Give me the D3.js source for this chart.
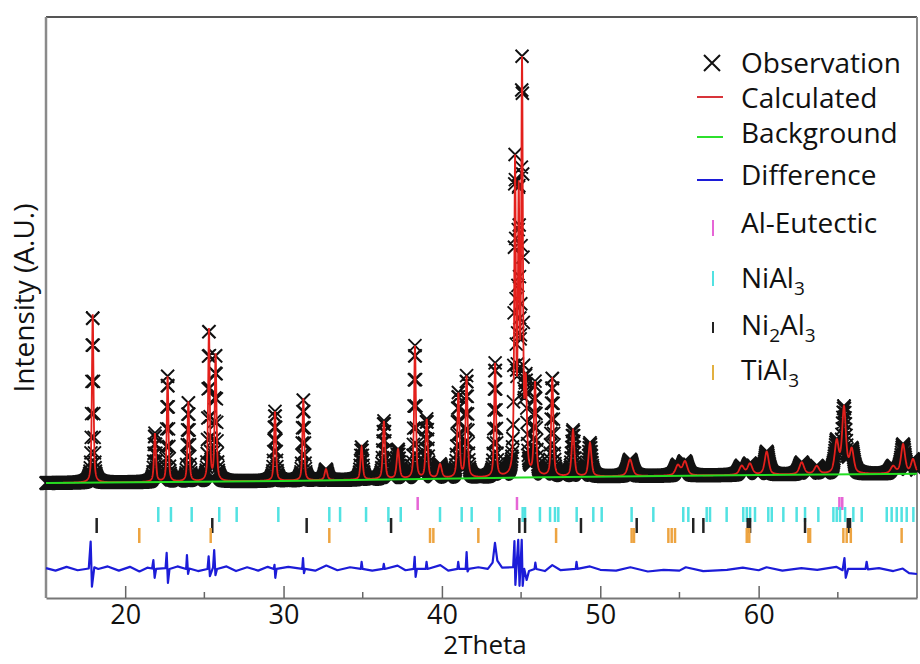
<!DOCTYPE html>
<html>
<head>
<meta charset="utf-8">
<script src="https://cdn.jsdelivr.net/npm/d3@7"></script>
<style>
body { margin: 0; background: #fff; }
text { font-family: "Open Sans", sans-serif; fill: #111; }
</style>
</head>
<body>
<script>
var w = 920;
var h = 664;

// reflections (2theta, height in counts, fwhm in degrees)
var peakPos = [17.95, 21.88, 22.68, 23.99, 25.29, 25.71, 29.46, 31.25, 32.68, 34.93,
    36.34, 37.23, 38.30, 39.04, 39.88, 41.04, 41.56, 43.36, 44.62, 44.85,
    45.06, 45.30, 45.88, 46.97, 48.28, 49.35, 51.88, 54.90, 55.35, 58.93,
    59.45, 60.51, 62.72, 63.67, 64.93, 65.39, 65.88, 68.49, 69.12, 69.75];
var peakHeight = [4000, 1150, 2500, 1900, 3600, 3000, 1650, 1950, 260, 780,
    1380, 700, 3150, 1400, 330, 2000, 2400, 2700, 7300, 6300,
    9500, 2000, 2200, 2350, 1100, 800, 400, 240, 330, 210,
    260, 550, 285, 190, 750, 1550, 550, 170, 690, 330];
var peakFwhm = [0.12, 0.14, 0.12, 0.13, 0.12, 0.13, 0.14, 0.13, 0.2, 0.16,
    0.16, 0.2, 0.13, 0.16, 0.25, 0.16, 0.15, 0.14, 0.12, 0.12,
    0.12, 0.16, 0.16, 0.16, 0.2, 0.22, 0.35, 0.35, 0.35, 0.35,
    0.35, 0.3, 0.35, 0.35, 0.3, 0.28, 0.3, 0.35, 0.3, 0.3];

// background knots
var bgPos = [15, 30, 45, 60, 70];
var bgVal = [430, 480, 560, 620, 650];

// difference curve (obs - calc), drawn shifted down by diffOffset
var diffOffset = -1610;
var diffPts = [[15.0, 20], [15.6, -40], [16.3, 50], [17.0, -30], [17.70, 10], [17.82, 650], [17.90, -420], [18.05, 40], [18.3, 0],
    [18.9, 60], [19.6, -40], [20.3, 50], [20.9, -60], [21.4, 30],
    [21.70, 10], [21.78, 210], [21.86, -210], [21.95, 0],
    [22.55, 20], [22.62, 380], [22.70, -330], [22.80, 0],
    [23.3, 60], [23.85, 0], [23.90, 330], [23.97, -120], [24.05, 10], [24.6, -50],
    [25.20, 0], [25.27, 300], [25.35, -170], [25.55, 40], [25.62, 450], [25.70, -150], [25.80, 0],
    [26.4, 60], [27.0, -50], [27.7, 40], [28.4, -40], [29.0, 50],
    [29.38, 0], [29.43, 100], [29.48, -210], [29.56, 0], [30.3, 50],
    [31.18, 0], [31.23, 260], [31.29, -100], [31.36, 0],
    [32.0, -40], [32.7, 80], [33.4, -30], [34.2, 40],
    [34.88, 0], [34.93, 170], [34.99, 0], [35.6, -40],
    [36.28, 0], [36.33, 120], [36.39, 0], [37.2, 80], [37.7, -30],
    [38.22, 0], [38.28, 290], [38.34, -190], [38.42, 0],
    [38.98, 0], [39.03, 170], [39.09, 0], [39.9, 90], [40.4, -40],
    [40.98, 0], [41.03, 170], [41.09, 0],
    [41.50, 0], [41.56, 400], [41.62, -60], [41.70, 0], [42.3, 40],
    [42.90, 0], [43.20, 150], [43.35, 620], [43.50, 200], [43.80, 30],
    [44.50, 40], [44.58, 660], [44.64, -380], [44.72, 100], [44.82, 690], [44.90, -400],
    [44.98, 200], [45.04, 690], [45.10, -400], [45.20, 0], [45.35, -260], [45.50, -50],
    [45.85, 0], [45.90, 150], [45.96, 0], [46.5, -50], [46.97, 90], [47.5, -30],
    [48.45, 0], [48.50, 170], [48.56, 0], [49.35, 60], [50.0, -20], [51.0, -40],
    [51.9, 40], [53.0, -60], [54.0, -20], [55.0, -40], [55.4, 40], [56.5, -50],
    [58.0, -20], [59.0, 30], [60.0, -30], [60.5, 40], [61.5, -40], [62.7, 20], [63.7, -20], [64.9, 50],
    [65.30, -30], [65.42, 260], [65.50, -210], [65.65, 0],
    [66.75, 0], [66.82, 170], [66.90, -10],
    [67.6, 20], [68.5, -50], [69.1, 10], [69.5, -100], [70.0, -120]];

// phase reflection positions
var alEutectic = [38.47, 44.74, 65.10, 65.28];
var niAl3 = [22.09, 22.89, 24.20, 25.94, 27.04, 29.67, 32.89, 33.57, 35.21, 36.62,
    37.40, 39.88, 41.25, 41.88, 43.63, 45.10, 45.25, 46.19, 46.83, 47.14,
    47.35, 48.51, 49.56, 50.09, 51.98, 53.35, 55.24, 55.56, 56.72, 56.93,
    57.98, 59.03, 59.25, 59.46, 59.77, 60.61, 60.83, 61.56, 62.40, 62.93,
    63.77, 64.72, 64.93, 65.14, 65.46, 65.98, 66.51, 68.09, 68.40, 68.72,
    69.03, 69.35, 69.77];
var ni2Al3 = [18.20, 25.50, 31.46, 36.79, 44.89, 45.25, 48.78, 52.30, 55.87, 56.51,
    59.31, 59.46, 62.93, 65.63, 65.77];
var tiAl3 = [20.89, 25.40, 32.89, 39.25, 39.46, 42.30, 47.21, 51.98, 52.13, 54.30,
    54.51, 54.72, 59.25, 59.41, 63.14, 63.25, 65.35, 65.56, 65.82, 69.03];

var xMajor = [20, 30, 40, 50, 60];
var xMinor = [25, 35, 45, 55, 65];

var x = d3.scaleLinear().domain([15, 70]).range([46, 917]);
var y = d3.scaleLinear().domain([-2300, 11500]).range([598, 17]);
var bgAt = d3.scaleLinear().domain(bgPos).range(bgVal);

function calcAt(t) {
    var s = bgAt(t);
    for (var i = 0; i < peakPos.length; i++) {
        var u = (t - peakPos[i]) / peakFwhm[i];
        var L = 1 / (1 + 4 * u * u);
        var G = Math.exp(-4 * Math.LN2 * u * u);
        s += peakHeight[i] * (0.6 * L + 0.4 * G);
    }
    return s;
}

var calc = d3.range(15, 70.0001, 0.01).map(function(t) { return [t, calcAt(t)]; });
var obs = d3.range(15, 70.0001, 0.02).map(function(t) { return [t, calcAt(t)]; });

var svg = d3.select("body").append("svg")
    .attr("width", w)
    .attr("height", h);

// frame
var frame = svg.append("g").attr("fill", "none");
frame.append("line").attr("x1", 46).attr("x2", 917).attr("y1", 17).attr("y2", 17)
    .attr("stroke", "#555").attr("stroke-width", 2);
frame.append("line").attr("x1", 46).attr("x2", 46).attr("y1", 17).attr("y2", 598)
    .attr("stroke", "#8a8a8a").attr("stroke-width", 2.5);
frame.append("line").attr("x1", 917).attr("x2", 917).attr("y1", 17).attr("y2", 598)
    .attr("stroke", "#8a8a8a").attr("stroke-width", 2);

// observation crosses
var xs = 6.5;
var obsD = obs.map(function(d) {
    var px = x(d[0]), py = y(d[1]);
    return "M" + (px - xs) + "," + (py - xs) + "l" + 2 * xs + "," + 2 * xs +
        "m0," + (-2 * xs) + "l" + (-2 * xs) + "," + 2 * xs;
}).join("");
svg.append("path").attr("d", obsD)
    .attr("fill", "none").attr("stroke", "#111").attr("stroke-width", 1.9);

var line = d3.line().x(function(d) { return x(d[0]); }).y(function(d) { return y(d[1]); });

svg.append("path").datum(calc).attr("d", line)
    .attr("fill", "none").attr("stroke", "#e3201c").attr("stroke-width", 1.8);

svg.append("path").datum(bgPos.map(function(p, i) { return [p, bgVal[i]]; })).attr("d", line)
    .attr("fill", "none").attr("stroke", "#22dd22").attr("stroke-width", 2);

svg.append("path").datum(diffPts.map(function(d) { return [d[0], d[1] + diffOffset]; })).attr("d", line)
    .attr("fill", "none").attr("stroke", "#1c1cd8").attr("stroke-width", 2.2)
    .attr("stroke-linejoin", "round");

// reflection tick rows
var phases = [
    {pos: alEutectic, color: "#e665d6", y0: 497, y1: 510},
    {pos: niAl3, color: "#52e2e2", y0: 507, y1: 522},
    {pos: ni2Al3, color: "#222", y0: 518, y1: 533},
    {pos: tiAl3, color: "#eda441", y0: 528, y1: 543}
];
phases.forEach(function(p) {
    svg.append("g").selectAll("line").data(p.pos).enter().append("line")
        .attr("x1", function(d) { return x(d); })
        .attr("x2", function(d) { return x(d); })
        .attr("y1", p.y0).attr("y2", p.y1)
        .attr("stroke", p.color).attr("stroke-width", 2.5);
});

// x axis
var axis = d3.axisBottom(x).tickValues(xMajor).tickSizeInner(-12).tickSizeOuter(0).tickPadding(7);
var ax = svg.append("g").attr("transform", "translate(0,598)").call(axis);
ax.select(".domain").attr("stroke", "#777").attr("stroke-width", 2);
ax.selectAll(".tick line").attr("stroke", "#666").attr("stroke-width", 1.5);
ax.selectAll(".tick text").style("font-family", "'Open Sans', sans-serif")
    .style("font-size", "27px").attr("fill", "#111");
svg.append("g").selectAll("line").data(xMinor).enter().append("line")
    .attr("x1", function(d) { return x(d); })
    .attr("x2", function(d) { return x(d); })
    .attr("y1", 592).attr("y2", 598)
    .attr("stroke", "#666").attr("stroke-width", 1.5);

svg.append("text").attr("x", 485).attr("y", 654)
    .attr("text-anchor", "middle").style("font-size", "26px").text("2Theta");

svg.append("text").attr("transform", "translate(34,298) rotate(-90)")
    .attr("text-anchor", "middle").style("font-size", "28px").text("Intensity (A.U.)");

// legend
var lg = svg.append("g");
var lx = 741;
lg.append("path").attr("d", "M704,55l16,16m0,-16l-16,16")
    .attr("stroke", "#111").attr("stroke-width", 2).attr("fill", "none");
[[97, "#d8343a"], [137, "#2ce02c"], [180, "#1c1cd8"]].forEach(function(r) {
    lg.append("line").attr("x1", 697).attr("x2", 723).attr("y1", r[0]).attr("y2", r[0])
        .attr("stroke", r[1]).attr("stroke-width", 2);
});
[[220, 236, "#e665d6"], [271, 286, "#52e2e2"], [322, 333, "#222"], [365, 380, "#e2b040"]].forEach(function(r) {
    lg.append("line").attr("x1", 713).attr("x2", 713).attr("y1", r[0]).attr("y2", r[1])
        .attr("stroke", r[2]).attr("stroke-width", 2);
});

var legendRows = [
    [73, [["Observation", 0]]],
    [108, [["Calculated", 0]]],
    [143, [["Background", 0]]],
    [185, [["Difference", 0]]],
    [233, [["Al-Eutectic", 0]]],
    [288, [["NiAl", 0], ["3", 1]]],
    [335, [["Ni", 0], ["2", 1], ["Al", 0], ["3", 1]]],
    [380, [["TiAl", 0], ["3", 1]]]
];
legendRows.forEach(function(r) {
    var t = lg.append("text").attr("x", lx).attr("y", r[0]).style("font-size", "28px");
    var down = false;
    r[1].forEach(function(p) {
        var s = t.append("tspan").text(p[0]);
        if (p[1] && !down) { s.attr("dy", 7).style("font-size", "19px"); down = true; }
        else if (!p[1] && down) { s.attr("dy", -7); down = false; }
        else if (p[1]) { s.style("font-size", "19px"); }
    });
});
</script>
</body>
</html>
